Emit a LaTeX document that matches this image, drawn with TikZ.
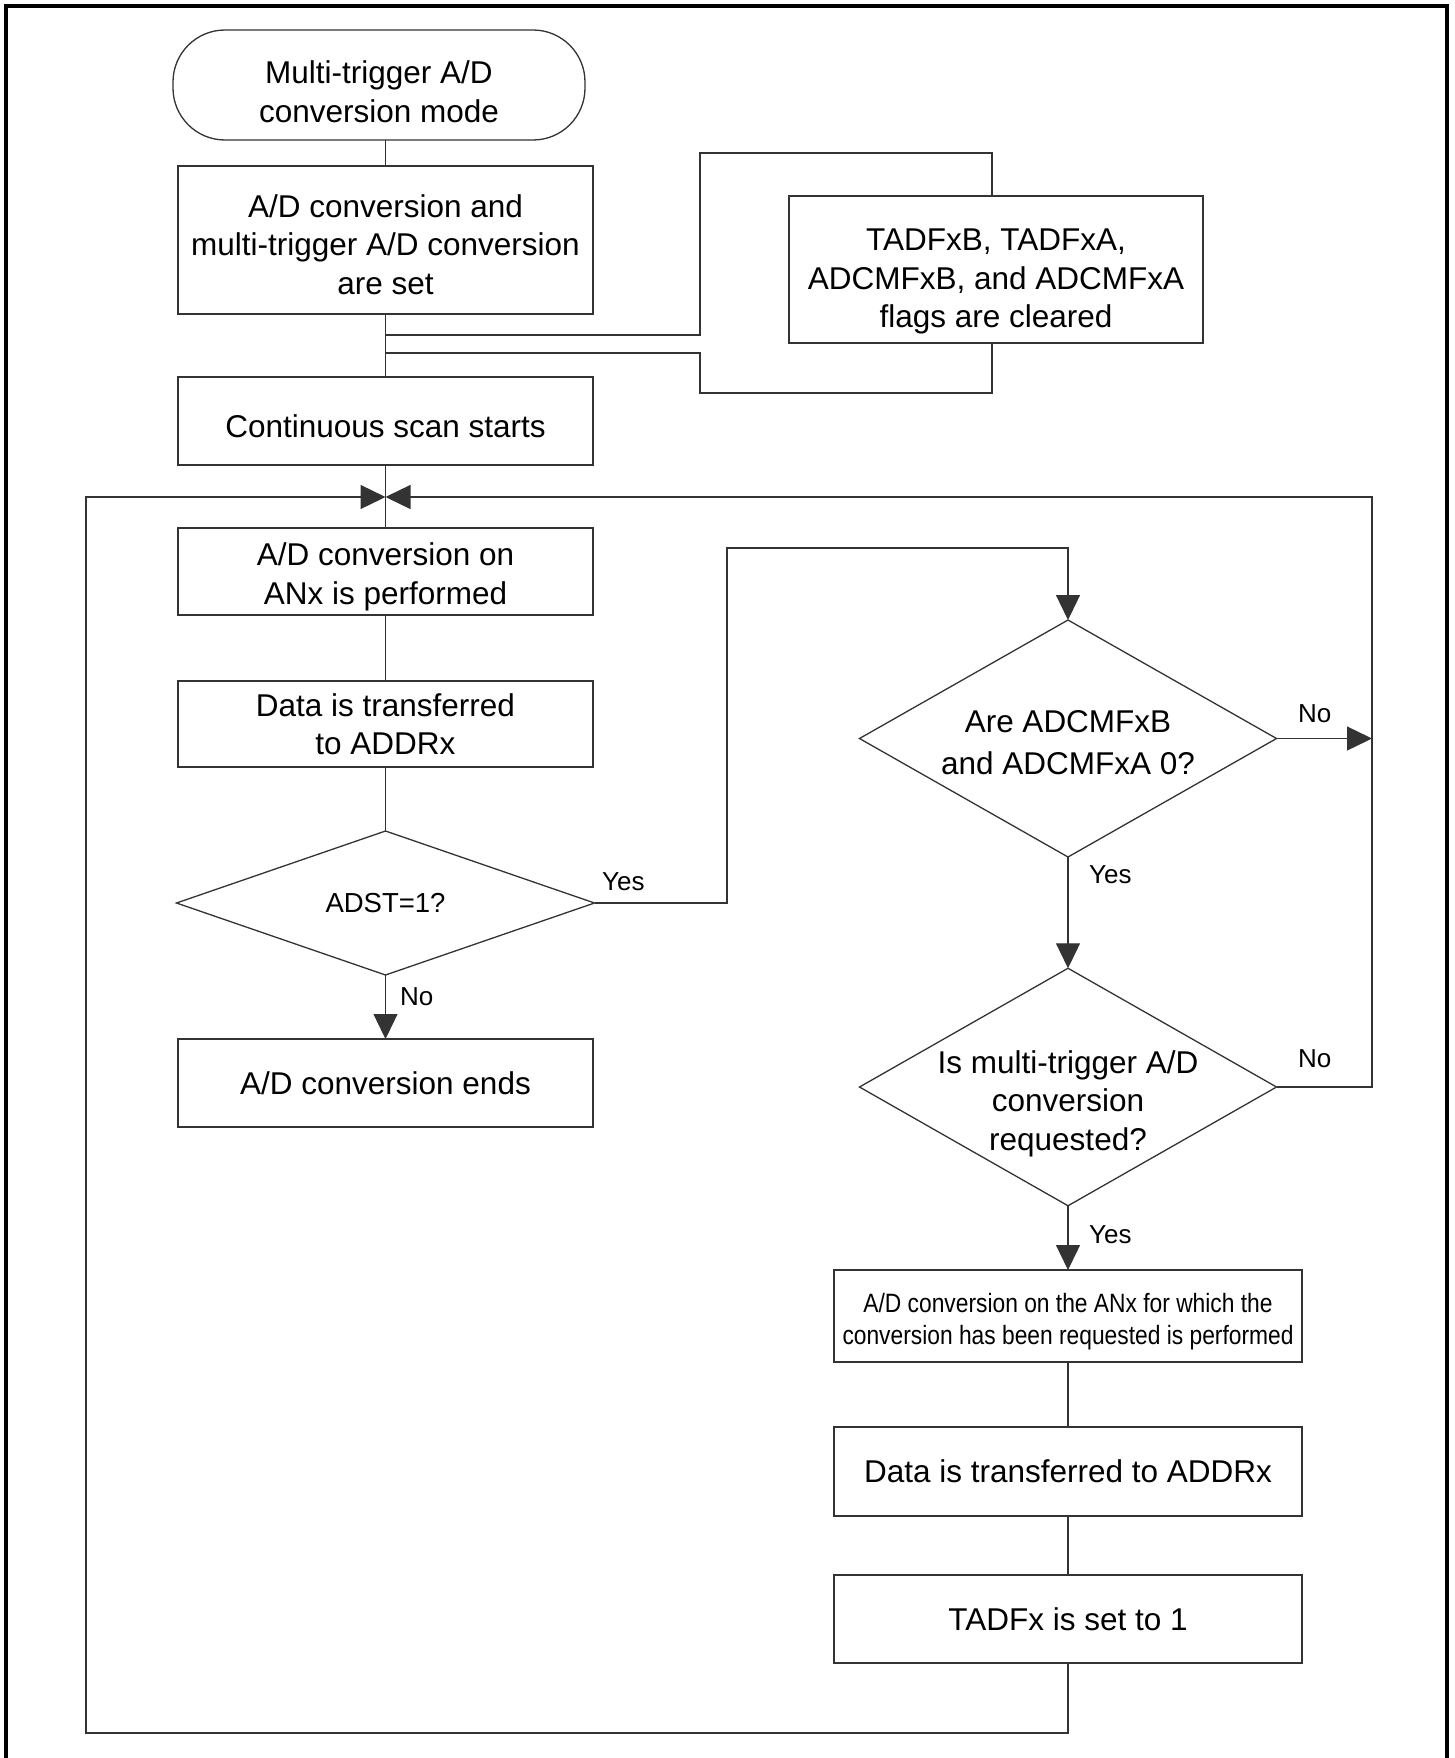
\documentclass[tikz,border=0pt]{standalone}
\usepackage{fontspec}
\setmainfont{Liberation Sans}
\newfontfamily\narrowfam[FakeStretch=0.86]{Liberation Sans}
\usetikzlibrary{shapes.geometric,arrows.meta}
\newcommand\mainsz{\fontsize{31.5}{38.5}\selectfont}
\newcommand\labsz{\fontsize{26}{30}\selectfont}
\newcommand\narrowsz{\narrowfam\fontsize{26.5}{32.5}\selectfont}
\begin{document}
\begin{tikzpicture}[x=1pt,y=-1pt,
  ln/.style={line width=1.3pt, draw=black!80},
  arr/.style={-{Triangle[length=25pt,width=24pt]}},
  box/.style={ln, rectangle, inner sep=0pt, outer sep=0pt},
  dia/.style={ln, diamond, inner sep=0pt, outer sep=0pt},
  txt/.style={align=center, font=\mainsz, inner sep=0pt},
  lab/.style={font=\labsz, inner sep=0pt, anchor=base west}]
\useasboundingbox (0,0) rectangle (1455,1758);
% frame
\draw[line width=4pt] (6,1765) -- (6,6) -- (1447,6) -- (1447,1765);
% left column
\node[box, rounded corners=52pt, minimum width=412pt, minimum height=110pt] (t) at (379,85) {};
\node[txt] (tt) at ([yshift=-6.5pt]t.center) {Multi-trigger A/D\\conversion mode};
\node[box, minimum width=415pt, minimum height=148pt] (b1) at (385.5,240) {};
\node[txt] (b1t) at ([yshift=-4.5pt]b1.center) {A/D conversion and\\multi-trigger A/D conversion\\are set};
\node[box, minimum width=414pt, minimum height=147pt] (fl) at (996,269.5) {};
\node[txt] (flt) at ([yshift=-12pt]fl.center) {TADFxB, TADFxA,\\ADCMFxB, and ADCMFxA\\flags are cleared};
\node[box, minimum width=415pt, minimum height=88pt] (cs) at (385.5,421) {};
\node[txt] (cst) at ([yshift=-5.5pt]cs.center) {Continuous scan starts};
\node[box, minimum width=415pt, minimum height=87pt] (anx) at (385.5,571.5) {};
\node[txt] (anxt) at ([yshift=-5.5pt]anx.center) {A/D conversion on\\ANx is performed};
\node[box, minimum width=415pt, minimum height=86pt] (dt) at (385.5,724) {};
\node[txt] (dtt) at (dt.center) {Data is transferred\\to ADDRx};
\node[dia, minimum width=418pt, minimum height=144pt] (d1) at (385.5,903) {};
\node[txt, font=\fontsize{27.5}{32}\selectfont] (d1t) at (d1) {ADST=1?};
\node[box, minimum width=415pt, minimum height=88pt] (end) at (385.5,1083) {};
\node[txt] (endt) at (end.center) {A/D conversion ends};
% right column
\node[dia, minimum width=417pt, minimum height=237pt] (d2) at (1068,738.5) {};
\node[txt, font=\fontsize{31.5}{41.5}\selectfont] (d2t) at ([yshift=-4pt]d2.center) {Are ADCMFxB\\and ADCMFxA 0?};
\node[dia, minimum width=417pt, minimum height=237.5pt] (d3) at (1068,1087) {};
\node[txt] (d3t) at ([yshift=-16.5pt]d3.center) {Is multi-trigger A/D\\conversion\\requested?};
\node[box, minimum width=468pt, minimum height=92pt] (rq) at (1068,1316) {};
\node[txt, font=\narrowsz] (rqt) at ([yshift=-5.5pt]rq.center) {A/D conversion on the ANx for which the\\conversion has been requested is performed};
\node[box, minimum width=468pt, minimum height=89pt] (dt2) at (1068,1471.5) {};
\node[txt] (dt2t) at (dt2.center) {Data is transferred to ADDRx};
\node[box, minimum width=468pt, minimum height=88pt] (tf) at (1068,1619) {};
\node[txt] (tft) at (tf.center) {TADFx is set to 1};
% coordinates
\coordinate (m) at (385.5,497);
\coordinate (j1) at (385.5,335);
\coordinate (j2) at (385.5,353);
\coordinate (bl) at (86,1733);
\coordinate (rc) at (1372,497);
\coordinate (ya) at (727,903);
\coordinate (yb) at (727,548);
\coordinate (fa) at (700,153);
\coordinate (fb) at (700,393);
\coordinate (fn) at ([xshift=-4pt]fl.north);
\coordinate (fs) at ([xshift=-4pt]fl.south);
% connectors
\draw[ln] (t.south -| b1.north) -- (b1.north);
\draw[ln] (b1.south) -- (cs.north);
\draw[ln] (j1) -- (j1 -| fa) -- (fa) -| (fn);
\draw[ln] (fs) |- (fb) -- (fb |- j2) -- (j2);
\draw[ln] (cs.south) -- (anx.north);
\draw[ln] (anx.south) -- (dt.north);
\draw[ln] (dt.south) -- (d1.north);
\draw[ln, arr] (d1.south) -- (end.north);
\draw[ln, arr] (d1.east) -- (ya) -- (yb) -| (d2.north);
\draw[ln, arr] (d2.south) -- (d3.north);
\draw[ln, arr] (d3.south) -- (rq.north);
\draw[ln] (rq.south) -- (dt2.north);
\draw[ln] (dt2.south) -- (tf.north);
\draw[ln, arr] (tf.south) -- (tf.south |- bl) -- (bl) -- (bl |- m) -- (m);
\draw[ln, arr] (d3.east) -| (rc) -- (m);
\draw[ln, arr] (d2.east) -- (d2.east -| rc);
% labels
\node[lab] (ly1) at (602,890) {Yes};
\node[lab] (ln1) at (400,1005) {No};
\node[lab] (ln2) at (1298,722) {No};
\node[lab] (ly2) at (1089,883) {Yes};
\node[lab] (ln3) at (1298,1067) {No};
\node[lab] (ly3) at (1089,1243) {Yes};
\end{tikzpicture}
\end{document}
